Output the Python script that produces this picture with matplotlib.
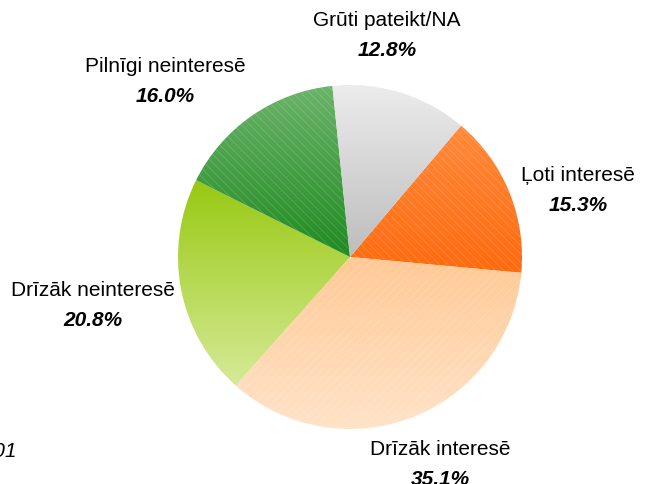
import numpy as np
import matplotlib
matplotlib.use("Agg")
from matplotlib import pyplot as plt
from matplotlib.colors import LinearSegmentedColormap
from matplotlib.patches import Wedge

plt.rcParams["font.family"] = ["Liberation Sans", "DejaVu Sans"]

# order goes clockwise from the upper right
labels = ["Ļoti interesē", "Drīzāk interesē", "Drīzāk neinteresē",
          "Pilnīgi neinteresē", "Grūti pateikt/NA"]
shares = [15.3, 35.1, 20.8, 16.0, 12.8]

# (top colour, bottom colour) of each slice's vertical gradient
grad_top = ["#ff8a3c", "#ffc995", "#98c912", "#6cb46c", "#ececec"]
grad_bottom = ["#ff6a0e", "#ffe3c8", "#d6ea98", "#1f8a1f", "#bdbdbd"]
hatches = ["\\\\\\\\", "////", None, "\\\\\\\\", None]

# label block centres in pixels (x from left, y from top)
label_pos = [(578, 191), (440, 465), (93, 306), (165, 82), (387, 36)]

W, H = 651, 485
cx, cy, r = 350, 258, 172
FS = 15

fig = plt.figure(figsize=(W / 100, H / 100), dpi=100)
ax = fig.add_axes([(cx - r) / W, (H - cy - r) / H, 2 * r / W, 2 * r / H])

wedges, _ = ax.pie(shares, startangle=49.8, counterclock=False, radius=1,
                   colors=["none"] * len(shares),
                   wedgeprops=dict(linewidth=0))
ax.set_xlim(-1, 1)
ax.set_ylim(-1, 1)
ax.set_aspect("equal")
ax.axis("off")

plt.rcParams["hatch.linewidth"] = 0.5
for w, c0, c1, h in zip(wedges, grad_top, grad_bottom, hatches):
    ext = w.get_path().get_extents()
    cmap = LinearSegmentedColormap.from_list("g", [c1, c0])
    grad = np.linspace(0, 1, 256).reshape(-1, 1)
    im = ax.imshow(grad, cmap=cmap, origin="lower", aspect="auto",
                   extent=[ext.x0, ext.x1, ext.y0, ext.y1], zorder=1)
    im.set_clip_path(w)
    if h:
        hw = Wedge(w.center, w.r, w.theta1, w.theta2, facecolor="none",
                   edgecolor=(1, 1, 1, 0.2), linewidth=0, hatch=h, zorder=2)
        ax.add_patch(hw)

for lab, val, (px, py) in zip(labels, shares, label_pos):
    fx, fy = px / W, 1 - py / H
    fig.text(fx, fy + 15 / H, lab, ha="center", va="center", fontsize=FS)
    fig.text(fx, fy - 15 / H, "{:.1f}%".format(val), ha="center",
             va="center", fontsize=FS, fontweight="bold", style="italic")

fig.text(17 / W, 1 - 452 / H, "2001", ha="right", va="center",
         fontsize=FS, style="italic")

fig.savefig("out.png", dpi=100)
